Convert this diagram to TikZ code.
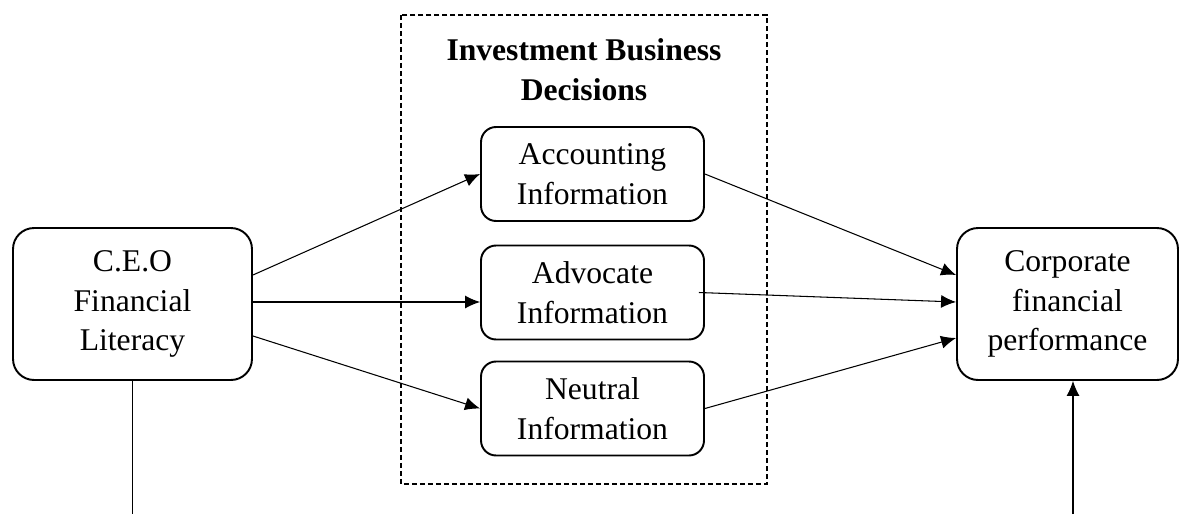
\documentclass[tikz,border=0pt]{standalone}
\usepackage{fontspec}
\setmainfont{Liberation Serif}
\usepackage{tikz}
\usetikzlibrary{arrows.meta}
\usetikzlibrary{positioning,calc}

\begin{document}
\begin{tikzpicture}[x=0.02cm,y=-0.02cm,
	font=\fontsize{18}{22.7}\selectfont,
	bigbox/.style={draw,line width=1.1pt,rounded corners=0.42cm,align=center,minimum height=3.04cm,inner sep=0pt},
	infobox/.style={draw,line width=1.1pt,rounded corners=0.3cm,align=center,minimum width=4.46cm,minimum height=1.88cm,inner sep=0pt},
	link/.style={line width=0.6pt,-{Latex[length=0.3cm,width=0.26cm]}},
	plainlink/.style={line width=0.6pt}]
	\useasboundingbox (0,0) rectangle (1180,514);
	\draw[line width=0.6pt,dash pattern=on 0.1cm off 0.06cm] (401,15) rectangle (767,484);
	\node[font=\fontsize{18}{22.7}\selectfont\bfseries,align=center] (title) at (584,70) {Investment Business\\Decisions};
	\node[bigbox,minimum width=4.78cm] (ceo) at (132.5,304) {C.E.O\\Financial\\Literacy};
	\node[bigbox,minimum width=4.42cm] (corp) at (1067.5,304) {Corporate\\financial\\performance};
	\node[infobox] (acc) at (592.5,174) {Accounting\\Information};
	\node[infobox] (adv) at (592.5,292.5) {Advocate\\Information};
	\node[infobox] (neu) at (592.5,408.5) {Neutral\\Information};
	\coordinate (ceoEnd) at (132.5,514);
	\coordinate (corpStart) at (1073,514);
	\draw[link] ([yshift=0.58cm]ceo.east) -- (acc.west);
	\draw[link] ([yshift=0.04cm]ceo.east) -- ([yshift=0.04cm]ceo.east -| adv.west);
	\draw[link] ([yshift=-0.64cm]ceo.east) -- (neu.west);
	\draw[link] (acc.east) -- ([yshift=0.58cm]corp.west);
	\draw[link] ([xshift=-0.12cm]adv.east) -- ([yshift=0.04cm]corp.west);
	\draw[link] (neu.east) -- ([yshift=-0.68cm]corp.west);
	\draw[plainlink] (ceo.south) -- (ceoEnd);
	\draw[link] (corpStart) -- (corpStart |- corp.south);
\end{tikzpicture}
\end{document}
